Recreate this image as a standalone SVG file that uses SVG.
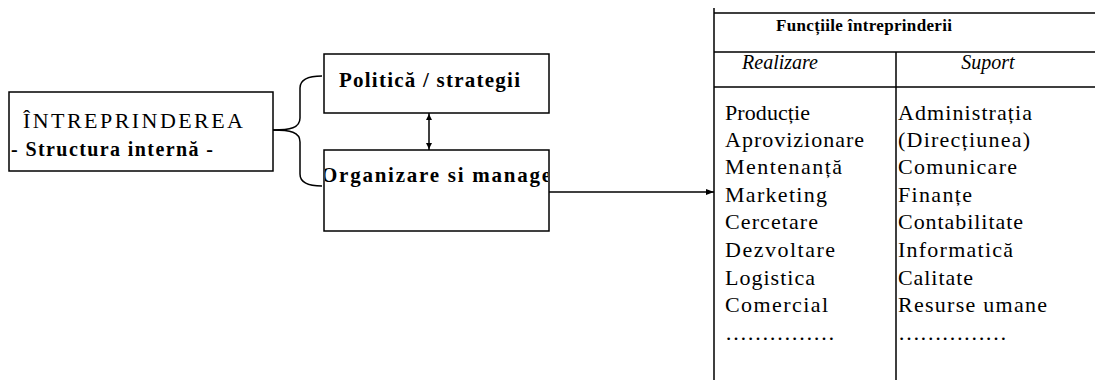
<svg xmlns="http://www.w3.org/2000/svg" width="1095" height="380" viewBox="0 0 1095 380">
<style>
.box{fill:#fff;stroke:#000;stroke-width:1.5}
.ln{stroke:#000;stroke-width:1.5;fill:none}
.t{font-family:"Liberation Serif",serif;fill:#000}
.b{font-weight:bold}
.i{font-style:italic}
.item{font-family:"Liberation Serif",serif;font-size:22px;fill:#000}
</style>
<defs>
<marker id="tip" viewBox="0 0 20 6" refX="16" refY="3" markerWidth="20" markerHeight="6" markerUnits="userSpaceOnUse" orient="auto-start-reverse"><path d="M9,0 L15,3 L9,6 z" fill="#000"/></marker>
<marker id="arr" viewBox="0 0 8 6" refX="8" refY="3" markerWidth="8" markerHeight="6" markerUnits="userSpaceOnUse" orient="auto"><path d="M0,0 L8,3 L0,6 z" fill="#000"/></marker>
<clipPath id="orgclip"><rect x="325" y="152" width="223" height="78"/></clipPath>
</defs>
<rect width="1095" height="380" fill="#fff"/>
<g id="connectors">
<path class="ln" d="M273 130 C290 130 300 128 300 118 L300 88 C300 79 308 76 322 76"/>
<path class="ln" d="M273 130 C290 130 300 132 300 142 L300 174 C300 183 308 186 322 186"/>
<path class="ln" d="M429 113 L429 150" marker-start="url(#tip)" marker-end="url(#tip)"/>
<path class="ln" d="M549 192 L714 192" marker-end="url(#arr)"/>
</g>
<g id="intreprinderea">
<rect class="box" x="9" y="92" width="264" height="79"/>
<text class="t" x="23" y="128" font-size="22" textLength="220" lengthAdjust="spacing">ÎNTREPRINDEREA</text>
<text class="t b" x="11" y="156" font-size="20" textLength="202" lengthAdjust="spacing">- Structura internă -</text>
</g>
<g id="politica">
<rect class="box" x="324" y="54" width="225" height="59"/>
<text class="t b" x="339" y="87" font-size="21" textLength="181" lengthAdjust="spacing">Politică / strategii</text>
</g>
<g id="organizare">
<rect class="box" x="324" y="150" width="225" height="81"/>
<text class="t b" x="321" y="182" font-size="21" clip-path="url(#orgclip)" textLength="230" lengthAdjust="spacing">Organizare si manage</text>
</g>
<g id="functii">
<path class="ln" d="M714 8 L714 380 M714 13 L1095 13 M714 52 L1095 52 M714 87 L1095 87 M896 52 L896 380"/>
<text class="t b" x="776" y="31" font-size="17" textLength="176" lengthAdjust="spacing">Funcțiile întreprinderii</text>
<text class="t i" x="780" y="69" font-size="20" text-anchor="middle">Realizare</text>
<text class="t i" x="988" y="69" font-size="20" text-anchor="middle">Suport</text>
<text class="item" x="725" y="120" textLength="85" lengthAdjust="spacing">Producție</text>
<text class="item" x="725" y="147" textLength="139" lengthAdjust="spacing">Aprovizionare</text>
<text class="item" x="725" y="174" textLength="117" lengthAdjust="spacing">Mentenanță</text>
<text class="item" x="725" y="202" textLength="102" lengthAdjust="spacing">Marketing</text>
<text class="item" x="725" y="229" textLength="93" lengthAdjust="spacing">Cercetare</text>
<text class="item" x="725" y="257" textLength="110" lengthAdjust="spacing">Dezvoltare</text>
<text class="item" x="725" y="285" textLength="90" lengthAdjust="spacing">Logistica</text>
<text class="item" x="725" y="312" textLength="103" lengthAdjust="spacing">Comercial</text>
<text class="item" x="725" y="340" textLength="110" lengthAdjust="spacing">……………</text>
<text class="item" x="898" y="120" textLength="134" lengthAdjust="spacing">Administrația</text>
<text class="item" x="898" y="147" textLength="132" lengthAdjust="spacing">(Direcțiunea)</text>
<text class="item" x="898" y="174" textLength="119" lengthAdjust="spacing">Comunicare</text>
<text class="item" x="898" y="202" textLength="74" lengthAdjust="spacing">Finanțe</text>
<text class="item" x="898" y="229" textLength="125" lengthAdjust="spacing">Contabilitate</text>
<text class="item" x="898" y="257" textLength="115" lengthAdjust="spacing">Informatică</text>
<text class="item" x="898" y="285" textLength="75" lengthAdjust="spacing">Calitate</text>
<text class="item" x="898" y="312" textLength="149" lengthAdjust="spacing">Resurse umane</text>
<text class="item" x="898" y="340" textLength="109" lengthAdjust="spacing">……………</text>
</g>
</svg>
